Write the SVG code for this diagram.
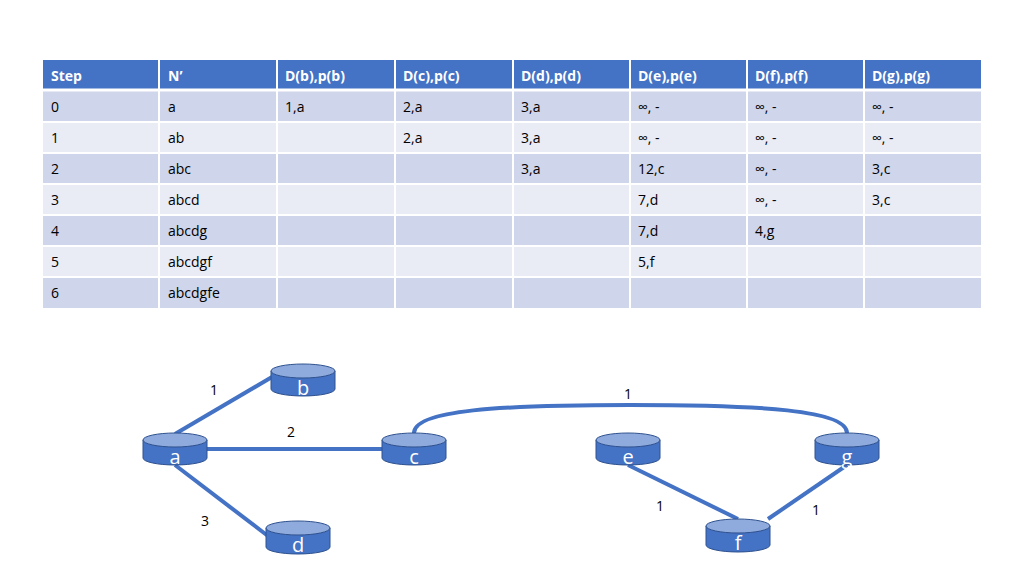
<svg xmlns="http://www.w3.org/2000/svg" width="1024" height="576" viewBox="0 0 1024 576">
<style>
text{font-family:"Open Sans","Liberation Sans",sans-serif}
.h{fill:#fff;font-weight:bold;font-size:14px}
.c{fill:#000;font-size:14px}
.d{fill:#cfd5ea}.l{fill:#e9ebf5}
.body{fill:#4472c4;stroke:#2f528f;stroke-width:1}
.top{fill:#8faadc;stroke:#2f528f;stroke-width:1}
.nl{fill:#fff;font-size:20px;text-anchor:middle}
.e{stroke:#4472c4;stroke-width:4;fill:none}
.el{font-size:14px;fill:#000;text-anchor:middle}
</style>
<rect width="1024" height="576" fill="#fff"/>
<g id="table">
<rect x="43" y="60" width="938" height="30" fill="#4472c4"/>
<rect x="43" y="90" width="938" height="32" class="d"/>
<rect x="43" y="122" width="938" height="31" class="l"/>
<rect x="43" y="153" width="938" height="31" class="d"/>
<rect x="43" y="184" width="938" height="31" class="l"/>
<rect x="43" y="215" width="938" height="31" class="d"/>
<rect x="43" y="246" width="938" height="31" class="l"/>
<rect x="43" y="277" width="938" height="31" class="d"/>
<g stroke="#fff" stroke-width="2">
<line x1="43" y1="90" x2="981" y2="90" stroke-width="3"/>
<line x1="43" y1="122" x2="981" y2="122"/><line x1="43" y1="153" x2="981" y2="153"/>
<line x1="43" y1="184" x2="981" y2="184"/><line x1="43" y1="215" x2="981" y2="215"/>
<line x1="43" y1="246" x2="981" y2="246"/><line x1="43" y1="277" x2="981" y2="277"/>
<line x1="159" y1="60" x2="159" y2="308"/><line x1="277" y1="60" x2="277" y2="308"/>
<line x1="395" y1="60" x2="395" y2="308"/><line x1="513" y1="60" x2="513" y2="308"/>
<line x1="630" y1="60" x2="630" y2="308"/><line x1="747" y1="60" x2="747" y2="308"/>
<line x1="864" y1="60" x2="864" y2="308"/>
</g>
<g class="h">
<text x="51" y="81">Step</text><text x="168" y="81">N’</text><text x="285" y="81">D(b),p(b)</text>
<text x="403" y="81">D(c),p(c)</text><text x="521" y="81">D(d),p(d)</text><text x="638" y="81">D(e),p(e)</text>
<text x="755" y="81">D(f),p(f)</text><text x="872" y="81">D(g),p(g)</text>
</g>
<g class="c">
<text x="51" y="112">0</text><text x="168" y="112">a</text><text x="285" y="112">1,a</text><text x="403" y="112">2,a</text><text x="521" y="112">3,a</text><text x="638" y="112">∞, -</text><text x="755" y="112">∞, -</text><text x="872" y="112">∞, -</text>
<text x="51" y="143">1</text><text x="168" y="143">ab</text><text x="403" y="143">2,a</text><text x="521" y="143">3,a</text><text x="638" y="143">∞, -</text><text x="755" y="143">∞, -</text><text x="872" y="143">∞, -</text>
<text x="51" y="174">2</text><text x="168" y="174">abc</text><text x="521" y="174">3,a</text><text x="638" y="174">12,c</text><text x="755" y="174">∞, -</text><text x="872" y="174">3,c</text>
<text x="51" y="205">3</text><text x="168" y="205">abcd</text><text x="638" y="205">7,d</text><text x="755" y="205">∞, -</text><text x="872" y="205">3,c</text>
<text x="51" y="236">4</text><text x="168" y="236">abcdg</text><text x="638" y="236">7,d</text><text x="755" y="236">4,g</text>
<text x="51" y="267">5</text><text x="168" y="267">abcdgf</text><text x="638" y="267">5,f</text>
<text x="51" y="298">6</text><text x="168" y="298">abcdgfe</text>
</g>
</g>
<g id="connectors">
<line class="e" x1="175" y1="434" x2="272" y2="377"/>
<line class="e" x1="207" y1="449" x2="383" y2="449"/>
<line class="e" x1="175" y1="465" x2="268" y2="536"/>
<path class="e" d="M414,433 C414,410 500,405 630,405 C760,405 847,410 847,433"/>
<line class="e" x1="628" y1="465" x2="738" y2="519"/>
<line class="e" x1="847" y1="465" x2="768" y2="519"/>
<text class="el" x="214" y="395">1</text>
<text class="el" x="291" y="437">2</text>
<text class="el" x="205" y="526">3</text>
<text class="el" x="628" y="399">1</text>
<text class="el" x="660" y="511">1</text>
<text class="el" x="816" y="515">1</text>
</g>
<g id="a"><path class="body" d="M143,440 V458 A32,7 0 0 0 207,458 V440 Z"/><ellipse class="top" cx="175" cy="440" rx="32" ry="7"/><text class="nl" x="175" y="464">a</text></g>
<g id="b"><path class="body" d="M271,371 V389 A32,7 0 0 0 335,389 V371 Z"/><ellipse class="top" cx="303" cy="371" rx="32" ry="7"/><text class="nl" x="303" y="395">b</text></g>
<g id="c"><path class="body" d="M382,440 V458 A32,7 0 0 0 446,458 V440 Z"/><ellipse class="top" cx="414" cy="440" rx="32" ry="7"/><text class="nl" x="414" y="464">c</text></g>
<g id="d"><path class="body" d="M266,528 V547 A32,7 0 0 0 330,547 V528 Z"/><ellipse class="top" cx="298" cy="528" rx="32" ry="7"/><text class="nl" x="298" y="552">d</text></g>
<g id="e"><path class="body" d="M596,440 V458 A32,7 0 0 0 660,458 V440 Z"/><ellipse class="top" cx="628" cy="440" rx="32" ry="7"/><text class="nl" x="628" y="464">e</text></g>
<g id="f"><path class="body" d="M706,526 V545 A32,7 0 0 0 770,545 V526 Z"/><ellipse class="top" cx="738" cy="526" rx="32" ry="7"/><text class="nl" x="738" y="550">f</text></g>
<g id="g"><path class="body" d="M815,440 V458 A32,7 0 0 0 879,458 V440 Z"/><ellipse class="top" cx="847" cy="440" rx="32" ry="7"/><text class="nl" x="847" y="464">g</text></g>
</svg>
